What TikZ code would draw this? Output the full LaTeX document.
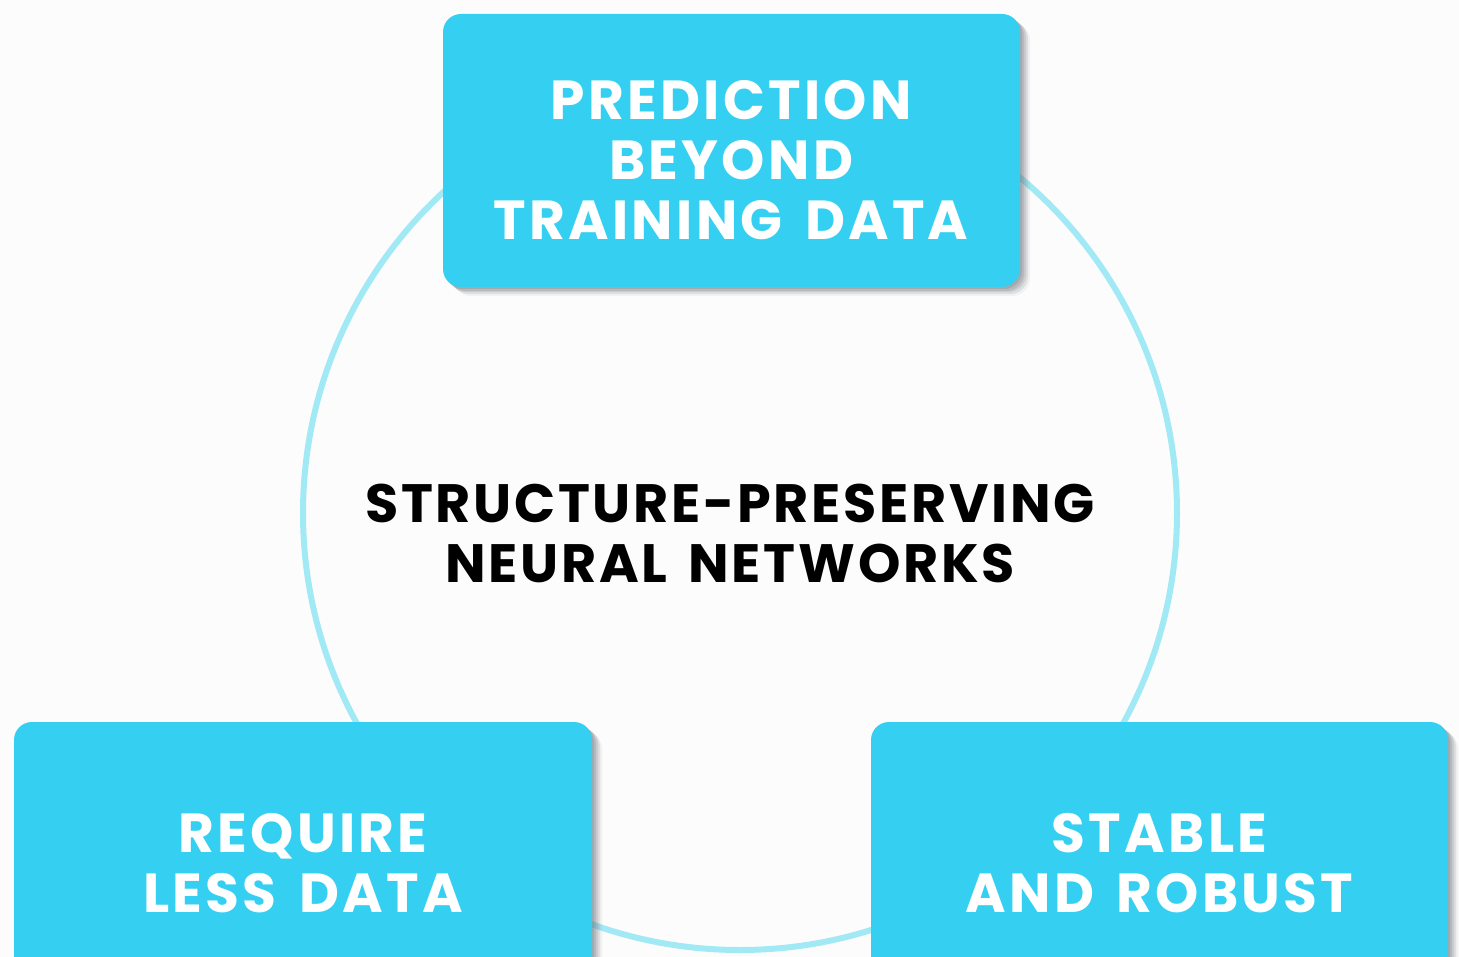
\documentclass[tikz,border=0pt]{standalone}
\usepackage{fontspec}
\newfontfamily\pfont{Poppins}[LetterSpace=6, WordSpace=1.5]
\newfontfamily\cfont{Poppins}[LetterSpace=5, WordSpace=1.5]
\usetikzlibrary{shapes.geometric}
\definecolor{boxcyan}{HTML}{35CFF2}
\definecolor{ringcyan}{HTML}{A2E9F6}
\definecolor{bgwhite}{HTML}{FCFCFC}
\definecolor{shadowgray}{HTML}{6E737A}
\tikzset{
  infobox/.style={rounded corners=18pt, fill=boxcyan, minimum width=577pt, minimum height=273pt,
    text=white, align=center, font=\pfont\bfseries\fontsize{55}{60}\selectfont, inner sep=0pt},
  boxtext/.style={text=white, align=center, font=\pfont\bfseries\fontsize{55}{60}\selectfont, inner sep=0pt},
  boxshadow/.style={rounded corners=18pt, fill=shadowgray},
  ring/.style={draw=ringcyan, line width=6pt, circle, minimum size=874pt, inner sep=0pt},
  title/.style={text=black, align=center, font=\cfont\bfseries\fontsize{54}{60}\selectfont}
}
\begin{document}
\begin{tikzpicture}[x=1pt,y=-1pt]
\useasboundingbox (0,0) rectangle (1459,957);
\fill[bgwhite] (0,0) rectangle (1459,957);
\node[ring] (ring) at (740,513) {};
\node[title] (core) at (730,533) {STRUCTURE-PRESERVING\\NEURAL NETWORKS};
% shadows
\foreach \dx/\dy/\o in {2/2/0.22,4/4/0.2,6/5/0.18,8/7/0.14,10/9/0.08}{
  \fill[boxshadow, opacity=\o] (443+\dx,14+\dy) rectangle (1020+\dx,287+\dy);
  \fill[boxshadow, opacity=\o] (14+\dx,722+\dy) rectangle (592+\dx,1000+\dy);
  \fill[boxshadow, opacity=\o] (871+\dx,722+\dy) rectangle (1448+\dx,1000+\dy);
}
\node[infobox] (pred) at (731.5,150.5) {};
\node[boxtext] (predtext) at (731,160.5) {PREDICTION\\BEYOND\\TRAINING DATA};
\node[infobox, minimum width=578pt, minimum height=282pt] (less) at (303,863) {REQUIRE\\LESS DATA};
\node[infobox, minimum height=282pt] (stable) at (1159.5,863) {STABLE\\AND ROBUST};
\end{tikzpicture}
\end{document}
